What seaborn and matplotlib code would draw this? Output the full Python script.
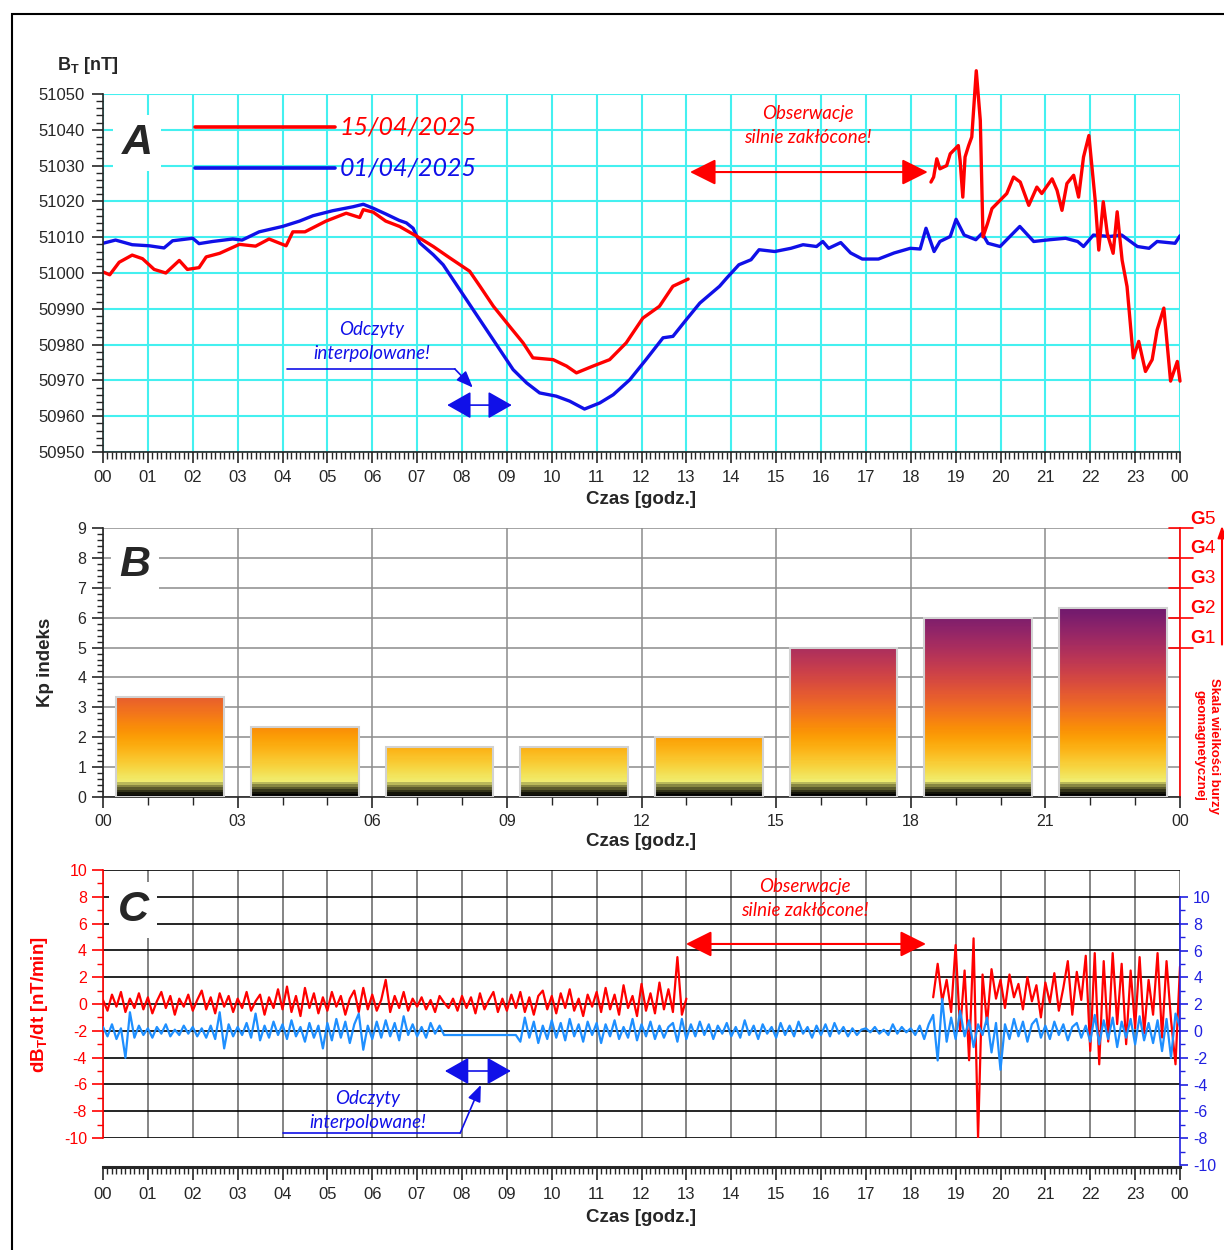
import matplotlib
matplotlib.use("Agg")

import numpy as np
import pandas as pd
import matplotlib.pyplot as plt
import matplotlib.transforms as mtransforms
from matplotlib.patches import Rectangle
from matplotlib.ticker import MultipleLocator, FormatStrFormatter
import seaborn as sns

# ─────────────────────────────────────────────
# DATA
# ─────────────────────────────────────────────
# Panel A: total field B_T [nT], time in hours
hA_red1 = [0.0, 0.15, 0.36, 0.65, 0.88, 1.14, 1.4, 1.7, 1.88, 2.14,
           2.3, 2.6, 3.04, 3.4, 3.7, 4.08, 4.23, 4.5, 4.97, 5.42,
           5.72, 5.8, 6.02, 6.3, 6.61, 7.0, 7.36, 7.73, 8.17, 8.4,
           8.7, 9.06, 9.36, 9.58, 10.03, 10.33, 10.55, 10.92, 11.29, 11.66,
           12.03, 12.4, 12.7, 13.04]
bt_red1 = [51000.3, 50999.5, 51003, 51005, 51004, 51001, 51000, 51003.5, 51001, 51001.5,
           51004.5, 51005.5, 51008, 51007.5, 51009.5, 51007.6, 51011.5, 51011.5, 51014.5, 51016.7,
           51015.5, 51017.7, 51017, 51014.5, 51013, 51010.2, 51007.4, 51004.2, 51000.5, 50996.3,
           50990.7, 50985.1, 50980.5, 50976.3, 50975.8, 50974, 50972.1, 50974, 50975.8, 50980.5,
           50987.4, 50990.7, 50996.3, 50998.3]

hA_red2 = [18.45, 18.51, 18.58, 18.65, 18.8, 18.88, 18.99, 19.06, 19.1, 19.16,
           19.21, 19.29, 19.36, 19.46, 19.55, 19.61, 19.71, 19.81, 19.92, 20.14,
           20.29, 20.44, 20.63, 20.81, 20.92, 21.15, 21.26, 21.37, 21.48, 21.63,
           21.74, 21.85, 21.97, 22.11, 22.19, 22.29, 22.38, 22.51, 22.6, 22.71,
           22.82, 22.96, 23.08, 23.23, 23.38, 23.49, 23.64, 23.79, 23.94, 24.0]
bt_red2 = [51025.4, 51026.8, 51031.9, 51029.1, 51030, 51033.3, 51034.7, 51035.6, 51031.4, 51021.2,
           51032.4, 51035.6, 51038, 51056.5, 51042.6, 51010.1, 51013.8, 51018, 51019.4, 51022.2,
           51026.8, 51025.4, 51018.9, 51024, 51022.2, 51026.3, 51023.1, 51017.5, 51025, 51027.3,
           51021.2, 51032.4, 51038.4, 51020.3, 51006.4, 51019.9, 51011, 51005.5, 51017.1, 51003.6,
           50996.2, 50976.3, 50980.9, 50972.5, 50975.8, 50984.1, 50990.2, 50969.8, 50975.3, 50969.8]

hA_blue = [0, 0.28, 0.65, 1.03, 1.36, 1.55, 2.0, 2.14, 2.44, 2.89,
           3.1, 3.48, 4.0, 4.38, 4.68, 5.12, 5.57, 5.8, 6.02, 6.3,
           6.6, 6.76, 6.91, 7.06, 7.36, 7.58, 9.14, 9.44, 9.73, 10.1,
           10.4, 10.73, 11.07, 11.37, 11.74, 12.1, 12.48, 12.7, 13.0, 13.3,
           13.74, 13.9, 14.17, 14.44, 14.62, 14.97, 15.33, 15.6, 15.9, 16.04,
           16.17, 16.44, 16.66, 16.92, 17.28, 17.63, 17.99, 18.21, 18.34, 18.52,
           18.65, 18.88, 19.01, 19.19, 19.45, 19.59, 19.72, 19.99, 20.21, 20.43,
           20.74, 21.1, 21.45, 21.72, 21.85, 22.07, 22.43, 22.7, 23.05, 23.31,
           23.49, 23.89, 24.0]
bt_blue = [51008.3, 51009.2, 51007.9, 51007.6, 51007, 51009, 51009.7, 51008.2, 51008.8, 51009.5,
           51009.2, 51011.5, 51013, 51014.5, 51016, 51017.4, 51018.5, 51019.2, 51018.1, 51016.5,
           51014.7, 51014, 51012.5, 51008.4, 51005.1, 51002.3, 50973, 50969.3, 50966.5, 50965.6,
           50964.2, 50962, 50963.7, 50966, 50970.2, 50975.8, 50981.9, 50982.3, 50987, 50991.6,
           50996.3, 50998.6, 51002.3, 51003.7, 51006.5, 51006, 51006.9, 51007.9, 51007.4, 51008.8,
           51006.9, 51008.5, 51005.6, 51003.9, 51003.9, 51005.6, 51006.9, 51006.7, 51012.5, 51006,
           51008.8, 51010.2, 51015, 51010.6, 51009.3, 51011.1, 51008.3, 51007.4, 51010.2, 51013,
           51008.8, 51009.3, 51009.7, 51008.8, 51007.4, 51010.6, 51010.2, 51010.6, 51007.4, 51006.9,
           51008.8, 51008.3, 51010.4]

# Panel B: 3-hour Kp index (15/04/2025)
kp_hour = [1.5, 4.5, 7.5, 10.5, 13.5, 16.5, 19.5, 22.5]
kp_val = [3.33, 2.33, 1.67, 1.67, 2.0, 5.0, 6.0, 6.33]
g_levels = [5, 6, 7, 8, 9]
g_names = ["1", "2", "3", "4", "5"]

# Panel C: dB_T/dt [nT/min], one reading every 6 minutes
dbdt_red_a = [  # 00:00 - 13:00
    0.3, -0.5, 0.7, -0.2, 0.9, -0.6, 0.4, -0.3, 0.8, -0.4,
    0.5, -0.7, 0.2, 0.9, -0.3, 0.6, -0.8, 0.4, -0.2, 0.7,
    -0.5, 0.3, 1.0, -0.4, 0.5, -0.7, 0.8, -0.2, 0.6, -0.6,
    0.4, -0.3, 0.9, -0.5, 0.2, 0.7, -0.8, 0.5, -0.3, 1.1,
    -0.4, 1.3, -0.6, 0.6, -0.9, 1.2, -0.3, 0.8, -0.7, 0.5,
    -0.5, 0.9, -0.2, 0.6, -0.8, 0.4, 1.0, -0.6, 1.2, -0.4,
    0.7, -0.5, 0.3, 1.8, -0.6, 0.6, -0.3, 0.9, -0.5, 0.4,
    -0.2, 0.5, -0.4, 0.3, -0.6, 0.6, 0.1, -0.3, 0.4, -0.5,
    0.6, -0.3, 0.5, -0.7, 0.8, -0.4, 0.3, 0.9, -0.6, 0.4,
    -0.5, 0.7, -0.3, 0.9, -0.6, 0.5, -0.8, 0.6, 1.0, -0.4,
    0.6, -0.7, 0.8, -0.3, 1.1, -0.5, 0.4, -0.9, 0.7, -0.2,
    0.9, -0.6, 1.2, -0.4, 0.7, -0.8, 1.4, -0.3, 0.6, -0.9,
    1.5, -0.5, 0.8, -0.7, 1.6, -0.4, 1.1, -0.6, 3.5, -0.8,
    0.4]
dbdt_red_b = [  # 18:30 - 24:00
    0.5, 3.0, 0.2, 1.8, -0.6,
    4.4, -2.0, 2.5, -4.2, 4.9, -10.0, 2.2, -1.5, 2.6, 0.4,
    1.8, -0.3, 2.2, 0.5, 1.5, -0.4, 2.0, 0.2, 1.4, -1.0,
    1.6, 0.1, 2.3, -0.5, 1.2, 3.2, -0.8, 2.4, 0.3, 3.6,
    -3.5, 3.8, -4.5, 3.2, -2.8, 3.8, -1.5, 3.0, -3.0, 2.5,
    -1.8, 3.5, -2.2, 1.8, -0.8, 3.8, -2.5, 3.2, -1.2, -4.5,
    2.8]
dbdt_blue_a = [  # 00:00 - 07:36 (right-hand scale)
    0.3, -0.4, 0.5, -0.6, 0.2, -2.0, 1.4, -0.5, 0.4, -0.3,
    0.2, -0.5, 0.3, -0.2, 0.5, -0.4, 0.1, -0.3, 0.4, -0.2,
    0.3, -0.4, 0.2, -0.5, 0.4, -0.6, 1.4, -1.3, 0.5, -0.4,
    0.3, -0.3, 0.6, -0.5, 1.3, -0.7, 0.4, -0.5, 0.7, -0.3,
    0.5, -0.6, 0.8, -0.4, 0.3, -0.8, 0.6, -0.5, 0.4, -1.3,
    0.6, -0.7, 0.9, -0.5, 0.7, -0.9, 0.5, 1.3, -1.4, 0.4,
    -0.6, 0.7, -0.5, 0.8, -0.4, 0.6, -0.7, 1.1, -0.3, 0.5,
    -0.4, 0.3, -0.5, 0.6, -0.2, 0.4, -0.3]
interp_hour = [9.2]
interp_val = [-0.3]
dbdt_blue_b = [  # 09:18 - 24:00
    -0.8, 1.0, -0.5, 0.7, -0.9, 0.4, -0.6,
    0.8, -0.5, 0.6, -0.7, 0.9, -0.4, 0.5, -0.8, 0.7, -0.3,
    0.6, -0.9, 0.5, -0.4, 0.8, -0.6, 0.3, -0.5, 0.9, -0.7,
    0.5, -0.4, 0.7, -0.6, 0.4, -0.5, 0.3, 0.6, -0.8, 0.9,
    -0.6, 0.5, -0.4, 0.7, -0.3, 0.5, -0.6, 0.4, -0.2, 0.6,
    -0.4, 0.3, -0.5, 0.8, -0.3, 0.4, -0.6, 0.5, -0.2, 0.3,
    -0.5, 0.6, -0.3, 0.4, -0.4, 0.7, -0.2, 0.3, -0.5, 0.4,
    -0.3, 0.5, -0.4, 0.6, -0.2, 0.3, -0.4, 0.2, -0.3, 0.1,
    0.2, -0.1, 0.3, -0.2, 0.1, -0.3, 0.5, -0.2, 0.3, -0.1,
    0.2, -0.3, 0.4, -0.6, 0.5, 1.2, -2.2, 2.4, -0.8, 1.0,
    -0.6, 1.5, -0.4, 0.8, -1.2, 0.5, -0.3, 1.0, -1.6, 0.6,
    -2.9, 0.5, -0.6, 0.9, -0.4, 0.7, -0.8, 0.5, 0.9, -0.5,
    0.4, -0.6, 0.7, -0.3, 0.5, -0.7, 0.3, 0.6, -0.5, 0.4,
    -0.8, 1.2, -1.0, 0.8, -0.6, 1.0, -1.2, 0.7, -0.5, 0.9,
    -1.0, 1.1, -0.7, 0.6, -0.9, 0.8, -1.5, 0.9, -2.0, 1.3,
    0.3]

hour_labels = [f"{h % 24:02d}" for h in range(25)]
kp_labels = [f"{h % 24:02d}" for h in range(0, 25, 3)]

# sampling times for dB/dt series (6-minute steps)
t_red_a = np.round(np.arange(len(dbdt_red_a)) * 0.1, 2)
t_red_b = np.round(18.5 + np.arange(len(dbdt_red_b)) * 0.1, 2)
t_blue_a = np.round(np.arange(len(dbdt_blue_a)) * 0.1, 2)
t_blue_b = np.round(9.3 + np.arange(len(dbdt_blue_b)) * 0.1, 2)
t_blue = np.concatenate([t_blue_a, interp_hour, t_blue_b])
v_blue = np.concatenate([dbdt_blue_a, interp_val, dbdt_blue_b])

# ─────────────────────────────────────────────
# STYLE
# ─────────────────────────────────────────────
sns.set_style("ticks")
plt.rcParams["font.family"] = ["Liberation Sans", "DejaVu Sans"]
plt.rcParams["mathtext.fontset"] = "custom"
plt.rcParams["mathtext.rm"] = "Liberation Sans"
plt.rcParams["mathtext.bf"] = "Liberation Sans:bold"
plt.rcParams["axes.linewidth"] = 1.2
plt.rcParams["axes.unicode_minus"] = False

RED = "#ff0000"
BLUE = "#1010e8"
SKY = "#1e8fff"
CYAN = "#44f0f0"
ITAL = ["Lato", "DejaVu Sans"]

W, H = 1224, 1250
fig = plt.figure(figsize=(W / 100, H / 100), dpi=100)


def px_box(x0, y0, x1, y1):
    return [x0 / W, 1 - y1 / H, (x1 - x0) / W, (y1 - y0) / H]


fig.patches.append(Rectangle((12 / W, -0.05), 1.2, 1.05 - 14 / H, transform=fig.transFigure,
                             fill=False, ec="black", lw=1.5))

axA = fig.add_axes(px_box(103, 94, 1180, 452))
axB = fig.add_axes(px_box(103, 528, 1180, 797))
axC = fig.add_axes(px_box(103, 870, 1180, 1138))
axCr = fig.add_axes(px_box(103, 897, 1180, 1165))


def double_arrow(ax, x0, x1, y, color, lw=1.5, hl=1.6, hw=0.8):
    ax.annotate("", xy=(x0, y), xytext=(x1, y),
                arrowprops=dict(arrowstyle=f"<|-|>,head_length={hl},head_width={hw}",
                                color=color, lw=lw, shrinkA=0, shrinkB=0))


# ─────────────────────────────────────────────
# PANEL A
# ─────────────────────────────────────────────
sns.lineplot(x=hA_blue, y=bt_blue, ax=axA, color=BLUE, lw=2.4, estimator=None, sort=False)
sns.lineplot(x=hA_red1, y=bt_red1, ax=axA, color=RED, lw=2.4, estimator=None, sort=False)
sns.lineplot(x=hA_red2, y=bt_red2, ax=axA, color=RED, lw=2.4, estimator=None, sort=False)
# storm peak pokes above the frame, as in the original
axA.lines[-1].set_clip_on(False)

axA.set_xlim(0, 24)
axA.set_ylim(50950, 51050)
axA.set_xticks(range(25), hour_labels)
axA.xaxis.set_minor_locator(MultipleLocator(0.1))
axA.yaxis.set_major_locator(MultipleLocator(10))
axA.yaxis.set_minor_locator(MultipleLocator(2))
axA.yaxis.set_major_formatter(FormatStrFormatter("%d"))
axA.grid(True, which="major", color=CYAN, lw=1.5)
axA.set_axisbelow(True)
for s in ["top", "right"]:
    axA.spines[s].set_visible(False)
axA.tick_params(which="major", length=8, width=1.2, labelsize=12, pad=5)
axA.tick_params(which="minor", length=5, width=1)
axA.set_xlabel("")
axA.set_ylabel("")

axA.text(0.76, 51036.3, "A", fontsize=31, fontweight="bold", style="italic", ha="center",
         va="center", bbox=dict(fc="white", ec="none", pad=6), zorder=5)

# legend drawn as lines + italic dates
axA.plot([2.05, 5.17], [51040.8, 51040.8], color=RED, lw=2.6)
axA.plot([2.05, 5.17], [51029.3, 51029.3], color=BLUE, lw=2.6)
axA.text(5.28, 51040.8, "15/04/2025", color=RED, fontsize=18, style="italic", family=ITAL,
         va="center", ha="left")
axA.text(5.28, 51029.3, "01/04/2025", color=BLUE, fontsize=18, style="italic", family=ITAL,
         va="center", ha="left")

axA.text(15.71, 51041.1, "Obserwacje\nsilnie zakłócone!", color=RED, fontsize=13.5,
         style="italic", family=ITAL, ha="center", va="center", linespacing=1.5)
double_arrow(axA, 13.08, 18.38, 51028.2, RED, lw=1.5)

axA.text(5.99, 50981, "Odczyty\ninterpolowane!", color=BLUE, fontsize=13.5,
         style="italic", family=ITAL, ha="center", va="center", linespacing=1.5)
axA.plot([4.1, 7.84], [50973.2, 50973.2], color=BLUE, lw=1.2)
axA.annotate("", xy=(8.24, 50968.0), xytext=(7.84, 50973.2),
             arrowprops=dict(arrowstyle="-|>,head_length=1.0,head_width=0.4", color=BLUE,
                             lw=1.2, shrinkA=0, shrinkB=0))
double_arrow(axA, 7.67, 9.11, 50963.1, BLUE, lw=1.2, hl=1.5, hw=0.85)

fig.text(88 / W, 1 - 66 / H, r"B$_\mathbf{T}$ [nT]", fontsize=13, fontweight="bold",
         ha="center", va="center")
fig.text(641 / W, 1 - 500 / H, "Czas [godz.]", fontsize=13.5, fontweight="bold",
         ha="center", va="center")

# ─────────────────────────────────────────────
# PANEL B
# ─────────────────────────────────────────────
sns.barplot(x=kp_hour, y=kp_val, native_scale=True, width=0.8, ax=axB, color="white",
            edgecolor="#d2d2d2", linewidth=1.5, errorbar=None, zorder=3)

cmap = plt.get_cmap("inferno")


def kp_colors(k):
    top = np.array(cmap(np.clip(0.95 - (k - 0.5) * 0.11, 0, 1)))
    yellow = np.array(cmap(0.95))
    level = np.floor(np.clip(k, 0, 0.4999) / 0.5 * 6) / 6
    low = yellow[None, :] * (level[:, None] ** 1.4)
    low[:, 3] = 1
    return np.where((k < 0.5)[:, None], low, top)


for p in axB.patches:
    x0, w, h = p.get_x(), p.get_width(), p.get_height()
    ys = np.linspace(0, h, 400)
    img = kp_colors(ys)[:, None, :]
    axB.imshow(img, extent=(x0, x0 + w, 0, h), origin="lower", aspect="auto",
               interpolation="nearest", zorder=2.5)
    p.set_facecolor("none")

axB.set_xlim(0, 24)
axB.set_ylim(0, 9)
axB.set_xticks(range(0, 25, 3), kp_labels)
axB.xaxis.set_minor_locator(MultipleLocator(1))
axB.yaxis.set_major_locator(MultipleLocator(1))
axB.yaxis.set_minor_locator(MultipleLocator(0.2))
axB.grid(True, which="major", color="#8c8c8c", lw=1.1)
axB.set_axisbelow(True)
axB.spines["top"].set_visible(False)
axB.spines["right"].set_color(RED)
axB.tick_params(which="major", length=8, width=1.2, labelsize=11.5, pad=4)
axB.tick_params(which="minor", length=4.5, width=1)
axB.tick_params(axis="x", which="minor", length=6)
axB.set_xlabel("")
axB.set_ylabel("")

axB.text(0.71, 7.76, "B", fontsize=31, fontweight="bold", style="italic", ha="center",
         va="center", bbox=dict(fc="white", ec="none", pad=6), zorder=5)

trB = mtransforms.blended_transform_factory(axB.transAxes, axB.transData)
for lev, name in zip(g_levels, g_names):
    axB.plot([0.99, 1.012], [lev, lev], transform=trB, color=RED, lw=1.2, clip_on=False)
    axB.text(1.0095, lev + 0.3, r"$\mathbf{G}$" + name, transform=trB, color=RED,
             fontsize=13.5, ha="left", va="center", clip_on=False)
axB.annotate("", xy=(1.039, 9.08), xytext=(1.039, 5.1), xycoords=trB,
             arrowprops=dict(arrowstyle="-|>,head_length=0.7,head_width=0.25", color=RED,
                             lw=1.5, shrinkA=0, shrinkB=0), annotation_clip=False)
axB.text(1.025, 1.72, "Skala wielkości burzy\ngeomagnetycznej", transform=trB, color=RED,
         fontsize=9.5, fontweight="bold", rotation=270, ha="center", va="center",
         linespacing=1.35, clip_on=False)

fig.text(45 / W, 1 - 662 / H, "Kp indeks", fontsize=13.5, fontweight="bold", rotation=90,
         ha="center", va="center")
fig.text(641 / W, 1 - 842 / H, "Czas [godz.]", fontsize=13.5, fontweight="bold",
         ha="center", va="center")

# ─────────────────────────────────────────────
# PANEL C
# ─────────────────────────────────────────────
sns.lineplot(x=t_red_a, y=dbdt_red_a, ax=axC, color=RED, lw=1.6, estimator=None, sort=False)
sns.lineplot(x=t_red_b, y=dbdt_red_b, ax=axC, color=RED, lw=1.6, estimator=None, sort=False)
sns.lineplot(x=t_blue, y=v_blue, ax=axCr, color=SKY, lw=1.6, estimator=None, sort=False)

axC.set_xlim(0, 24)
axC.set_ylim(-10, 10)
axC.set_xticks(range(25), hour_labels)
axC.xaxis.set_minor_locator(MultipleLocator(0.1))
axC.yaxis.set_major_locator(MultipleLocator(2))
axC.yaxis.set_minor_locator(MultipleLocator(1))
axC.grid(True, axis="y", which="major", color="black", lw=1.2)
axC.grid(True, axis="x", which="major", color="#707070", lw=1.2)
axC.set_axisbelow(True)
axC.spines["top"].set_visible(False)
axC.spines["right"].set_visible(False)
axC.spines["left"].set_color(RED)
axC.spines["bottom"].set_position(("outward", 21))
axC.spines["bottom"].set_linewidth(2.2)
axC.tick_params(axis="y", which="both", colors=RED, labelsize=11.5)
axC.tick_params(axis="y", which="major", length=8, width=1.2)
axC.tick_params(axis="y", which="minor", length=4.5, width=1)
axC.tick_params(axis="x", which="major", length=9, width=1.2, labelsize=12, pad=5)
axC.tick_params(axis="x", which="minor", length=5, width=1)
axC.set_xlabel("")
axC.set_ylabel("")

axCr.set_xlim(0, 24)
axCr.set_ylim(-10, 10)
axCr.patch.set_visible(False)
axCr.xaxis.set_visible(False)
for s in ["top", "left", "bottom"]:
    axCr.spines[s].set_visible(False)
axCr.spines["right"].set_color("#2020e0")
axCr.yaxis.tick_right()
axCr.yaxis.set_major_locator(MultipleLocator(2))
axCr.yaxis.set_minor_locator(MultipleLocator(1))
axCr.tick_params(axis="y", which="both", colors="#2020e0", labelsize=11.5)
axCr.tick_params(axis="y", which="major", length=6, width=1.2)
axCr.tick_params(axis="y", which="minor", length=3.5, width=1)
axCr.set_xlabel("")
axCr.set_ylabel("")

axC.text(0.67, 7.0, "C", fontsize=31, fontweight="bold", style="italic", ha="center",
         va="center", bbox=dict(fc="white", ec="none", pad=6), zorder=5)

axC.text(15.64, 7.84, "Obserwacje\nsilnie zakłócone!", color=RED, fontsize=13.5,
         style="italic", family=ITAL, ha="center", va="center", linespacing=1.5)
double_arrow(axC, 12.99, 18.34, 4.48, RED, lw=1.5)

axC.text(5.9, -7.98, "Odczyty\ninterpolowane!", color=BLUE, fontsize=13.5,
         style="italic", family=ITAL, ha="center", va="center", linespacing=1.5)
axC.plot([4.01, 7.96], [-9.63, -9.63], color=BLUE, lw=1.2)
axC.annotate("", xy=(8.42, -6.04), xytext=(7.96, -9.63),
             arrowprops=dict(arrowstyle="-|>,head_length=1.0,head_width=0.4", color=BLUE,
                             lw=1.2, shrinkA=0, shrinkB=0))
double_arrow(axC, 7.62, 9.09, -5.0, BLUE, lw=1.2, hl=1.5, hw=0.85)

fig.text(40 / W, 1 - 1005 / H, r"dB$_\mathbf{T}$/dt [nT/min]", fontsize=13.5,
         fontweight="bold", color=RED, rotation=90, ha="center", va="center")
fig.text(641 / W, 1 - 1218 / H, "Czas [godz.]", fontsize=13.5, fontweight="bold",
         ha="center", va="center")

fig.savefig("out.png", dpi=100)
